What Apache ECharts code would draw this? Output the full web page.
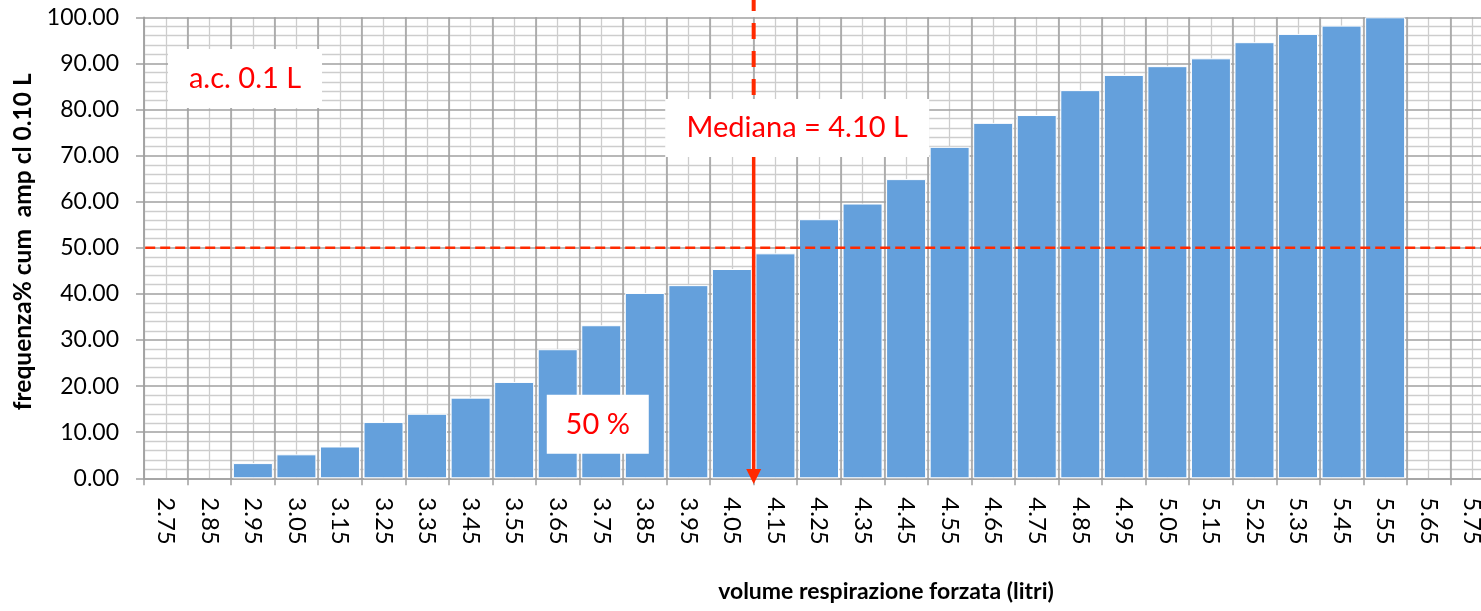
<!DOCTYPE html>
<html>
<head>
<meta charset="utf-8">
<script src="https://cdn.jsdelivr.net/npm/echarts@6/dist/echarts.min.js"></script>
<style>
html,body{margin:0;padding:0;background:#fff;}
#chart{width:1481px;height:611px;}
</style>
</head>
<body>
<div id="chart"></div>
<script>
// ---- data ----
const categories = ['2.75','2.85','2.95','3.05','3.15','3.25','3.35','3.45','3.55','3.65','3.75','3.85','3.95','4.05','4.15','4.25','4.35','4.45','4.55','4.65','4.75','4.85','4.95','5.05','5.15','5.25','5.35','5.45','5.55','5.65','5.75'];
const cumFreq = [0,0,3.3,5.2,6.9,12.2,14.0,17.5,20.9,28.0,33.2,40.2,41.9,45.4,48.8,56.2,59.6,64.9,71.9,77.1,78.8,84.2,87.5,89.4,91.1,94.6,96.4,98.2,100,0,0];
const median = 4.10;              // litri
const medianPct = 50;             // %
const volumeRange = [2.70, 5.80]; // class boundaries (litri)
const refLineStart = 2.565;       // where the 50 % line begins (litri)
const yTicks = [0, 100, 10];      // min, max, interval
const yTitle = 'frequenza% cum  amp cl 0.10 L';
const xTitle = 'volume respirazione forzata (litri)';
const notes = [
  {text: 'a.c. 0.1 L', x: 2.932, y: 86.7},
  {text: 'Mediana = 4.10 L', x: 4.200, y: 76.0},
  {text: '50 %', x: 3.742, y: 11.7}
];

const FONT = 'Lato';
const RED = '#ff2a00';
const chart = echarts.init(document.getElementById('chart'), null, {renderer: 'canvas'});

const noteSizes = [[154, 59], [264, 58], [102, 59]];

const yBase = {
  type: 'value',
  min: yTicks[0],
  max: yTicks[1],
  interval: yTicks[2],
  position: 'left'
};

const option = {
  animation: false,
  backgroundColor: '#ffffff',
  grid: {left: 144, top: 17.3, width: 1350, height: 461, containLabel: false, outerBoundsMode: 'none'},
  xAxis: [
    {
      type: 'category',
      data: categories,
      z: 2,
      boundaryGap: true,
      axisLine: {show: true, lineStyle: {color: '#a0a0a0', width: 1.5}},
      axisTick: {show: true, alignWithLabel: false, length: 7, lineStyle: {color: '#a0a0a0', width: 1.5}},
      axisLabel: {rotate: -90, margin: 19, color: '#000', fontFamily: FONT, fontSize: 24, interval: 0},
      splitLine: {show: true, interval: 0, lineStyle: {color: '#a0a0a0', width: 1.5}},
      name: xTitle,
      nameLocation: 'middle',
      nameGap: 102,
      nameTextStyle: {fontFamily: FONT, fontWeight: 'bold', fontSize: 23, color: '#000', padding: [0, 0, 0, 134]}
    },
    {
      type: 'value',
      min: volumeRange[0],
      max: volumeRange[1],
      interval: 0.05,
      z: 0,
      show: true,
      axisLine: {show: false},
      axisTick: {show: false},
      axisLabel: {show: false},
      splitLine: {show: true, lineStyle: {color: '#cdcdcd', width: 1.3}}
    }
  ],
  yAxis: [
    Object.assign({}, yBase, {
      z: 1,
      axisLine: {show: true, lineStyle: {color: '#a0a0a0', width: 1.5}},
      axisTick: {show: true, length: 8, lineStyle: {color: '#a0a0a0', width: 1.5}},
      axisLabel: {show: false},
      splitLine: {show: true, lineStyle: {color: '#a0a0a0', width: 1.5}},
      minorTick: {show: false, splitNumber: 5},
      minorSplitLine: {show: true, lineStyle: {color: '#cdcdcd', width: 1.3}},
      name: yTitle,
      nameLocation: 'middle',
      nameRotate: 90,
      nameGap: 108,
      nameTextStyle: {fontFamily: FONT, fontWeight: 'bold', fontSize: 24.5, color: '#000', padding: [0, 0, 0, 12]}
    }),
    Object.assign({}, yBase, {
      z: 20,
      axisLine: {show: false},
      axisTick: {show: false},
      splitLine: {show: false},
      axisLabel: {margin: 25, color: '#000', fontFamily: FONT, fontSize: 23, formatter: v => v.toFixed(2)}
    })
  ],
  series: [
    {
      type: 'bar',
      xAxisIndex: 0,
      yAxisIndex: 0,
      z: 5,
      barWidth: 40,
      data: cumFreq.map(v => v === 0 ? {value: v, itemStyle: {borderWidth: 0}} : v),
      itemStyle: {color: '#64a0dc', borderColor: '#ffffff', borderWidth: 1}
    },
    {
      // horizontal 50 % dashed line
      type: 'line',
      xAxisIndex: 1,
      yAxisIndex: 0,
      z: 6,
      clip: false,
      symbol: 'none',
      silent: true,
      data: [[refLineStart, medianPct], [volumeRange[1], medianPct]],
      lineStyle: {color: RED, width: 2.5, type: [10, 5]}
    },
    {
      // vertical dashed line above the median label
      type: 'line',
      xAxisIndex: 1,
      yAxisIndex: 0,
      z: 6,
      clip: false,
      symbol: 'none',
      silent: true,
      data: [[median, 104.85], [median, notes[1].y]],
      lineStyle: {color: RED, width: 4, type: [16, 12]}
    },
    {
      // solid arrow to the axis
      type: 'line',
      xAxisIndex: 1,
      yAxisIndex: 0,
      z: 6,
      clip: false,
      silent: true,
      showSymbol: true,
      data: [
        {value: [median, notes[1].y], symbol: 'none'},
        {value: [median, 0.4], symbol: 'triangle', symbolSize: [15, 15], symbolRotate: 180}
      ],
      itemStyle: {color: RED},
      lineStyle: {color: RED, width: 3.5}
    },
    {
      type: 'scatter',
      xAxisIndex: 1,
      yAxisIndex: 0,
      z: 10,
      silent: true,
      data: notes.map((n, i) => ({
        value: [n.x, n.y],
        symbol: 'rect',
        symbolSize: noteSizes[i],
        label: {show: true, formatter: n.text}
      })),
      itemStyle: {color: '#ffffff', opacity: 1},
      label: {show: true, position: 'inside', color: '#ff0000', fontFamily: FONT, fontSize: 29}
    }
  ]
};
chart.setOption(option);
</script>
</body>
</html>
